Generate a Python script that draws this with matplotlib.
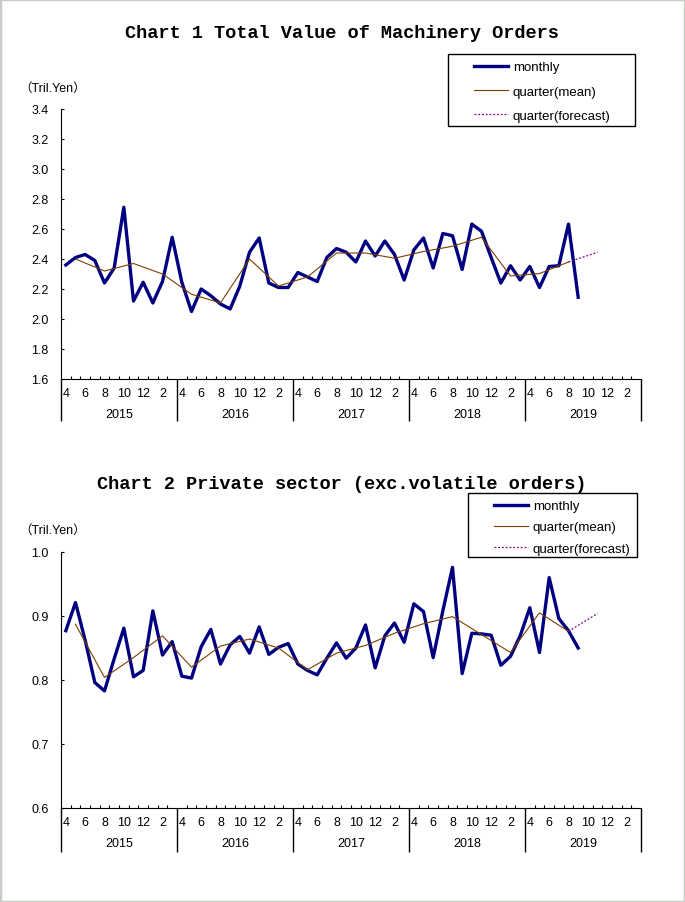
import numpy as np
import matplotlib.pyplot as plt
from matplotlib.patches import Rectangle

# fiscal years shown on the x axis (Apr - Mar)
years = ["2015", "2016", "2017", "2018", "2019"]
month_labels = ["4", "6", "8", "10", "12", "2"]

# Chart 1: total value of machinery orders, monthly Apr 2015 - Sep 2019
total_monthly = [2.36, 2.41, 2.43, 2.39, 2.24, 2.34, 2.745, 2.12, 2.245, 2.107, 2.25, 2.545,
                 2.245, 2.05, 2.20, 2.155, 2.10, 2.067, 2.22, 2.445, 2.54, 2.24, 2.21, 2.21,
                 2.31, 2.28, 2.25, 2.41, 2.47, 2.445, 2.38, 2.52, 2.42, 2.52, 2.43, 2.26,
                 2.46, 2.54, 2.34, 2.57, 2.555, 2.33, 2.633, 2.585, 2.41, 2.24, 2.355, 2.26,
                 2.35, 2.21, 2.35, 2.355, 2.633, 2.145]
total_quarter = [2.40, 2.32, 2.37, 2.30, 2.165, 2.107, 2.40, 2.22, 2.28, 2.44,
                 2.44, 2.405, 2.45, 2.485, 2.545, 2.287, 2.303, 2.38]
total_forecast = 2.445

# Chart 2: private sector excluding volatile orders
private_monthly = [0.877, 0.921, 0.862, 0.796, 0.783, 0.833, 0.881, 0.805, 0.815, 0.908, 0.839, 0.860,
                   0.806, 0.803, 0.852, 0.879, 0.825, 0.855, 0.868, 0.842, 0.883, 0.840, 0.851, 0.857,
                   0.825, 0.815, 0.808, 0.834, 0.858, 0.834, 0.850, 0.886, 0.819, 0.869, 0.889, 0.859,
                   0.919, 0.907, 0.835, 0.908, 0.976, 0.810, 0.873, 0.872, 0.870, 0.823, 0.837, 0.869,
                   0.913, 0.843, 0.960, 0.896, 0.877, 0.850]
private_quarter = [0.887, 0.804, 0.835, 0.869, 0.820, 0.853, 0.864, 0.850, 0.816, 0.842,
                   0.854, 0.873, 0.888, 0.899, 0.871, 0.843, 0.905, 0.876]
private_forecast = 0.904

NAVY = "#000080"
BROWN = "#7f3f00"
PURPLE = "#800080"

plt.rcParams["font.family"] = ["Liberation Sans", "Noto Sans CJK JP", "DejaVu Sans"]

W, H = 685, 903
fig = plt.figure(figsize=(W / 100, H / 100), dpi=100)


def fx(px):
    return px / W


def fy(py):
    return 1 - py / H


def draw_chart(top, bottom, title, title_y, monthly, quarter, forecast, yticks,
               unit_y, box, first_row, row_gap, divider_len):
    ax = fig.add_axes([fx(61), fy(bottom), fx(641) - fx(61), fy(top) - fy(bottom)])

    xm = np.arange(len(monthly)) + 0.5
    xq = np.arange(len(quarter)) * 3 + 1.5
    ax.plot(xm, monthly, color=NAVY, lw=2.4, label="monthly", zorder=3)
    ax.plot(xq, quarter, color=BROWN, lw=0.8, label="quarter(mean)", zorder=4)
    ax.plot([xq[-1], xq[-1] + 3], [quarter[-1], forecast], color=PURPLE, lw=0.9,
            ls=(0, (1.5, 1.5)), label="quarter(forecast)", zorder=4)

    ax.set_xlim(0, 60)
    ax.set_ylim(yticks[0], yticks[-1])
    ax.spines["top"].set_visible(False)
    ax.spines["right"].set_visible(False)

    ax.set_yticks(yticks)
    ax.set_yticklabels(["%.1f" % v for v in yticks])
    ax.tick_params(axis="y", direction="in", length=2.5, pad=9, labelsize=9)

    # year dividers below the axis and monthly ticks on it
    ax.set_xticks(np.arange(0, 61, 12))
    ax.set_xticklabels([])
    ax.set_xticks(np.arange(0, 61), minor=True)
    ax.tick_params(axis="x", which="major", direction="out", length=divider_len, width=1)
    ax.tick_params(axis="x", which="minor", direction="in", length=2.5, width=0.8)

    for i, yr in enumerate(years):
        for k, lab in enumerate(month_labels):
            ax.annotate(lab, xy=(i * 12 + k * 2 + 0.5, 0), xycoords=("data", "axes fraction"),
                        xytext=(0, -10), textcoords="offset points",
                        ha="center", va="center", fontsize=9)
        ax.annotate(yr, xy=(i * 12 + 6, 0), xycoords=("data", "axes fraction"),
                    xytext=(0, -25), textcoords="offset points",
                    ha="center", va="center", fontsize=9)

    fig.text(fx(342), fy(title_y), title, ha="center", va="center",
             family="Liberation Mono", weight="bold", fontsize=13.4)
    fig.text(fx(53), fy(unit_y), "（Tril.Yen）", ha="center", va="center", fontsize=9)

    # legend: frame drawn separately so the padding matches
    x0, y0, x1, y1 = box
    fig.add_artist(Rectangle((fx(x0), fy(y1)), fx(x1) - fx(x0), fy(y0) - fy(y1),
                             transform=fig.transFigure, fill=False, ec="black", lw=1))
    ax.legend(loc="upper left", bbox_to_anchor=(fx(x0 + 26), fy(first_row - 4)),
              bbox_transform=fig.transFigure, frameon=False, fontsize=9.5,
              borderpad=0, borderaxespad=0, handlelength=2.6, handletextpad=0.35,
              labelspacing=row_gap)
    return ax


draw_chart(110, 380, "Chart 1 Total Value of Machinery Orders", 33,
           total_monthly, total_quarter, total_forecast,
           np.round(np.arange(1.6, 3.41, 0.2), 1), 89,
           (448, 55, 635, 127), 66, 0.92, 30.2)

draw_chart(553, 809, "Chart 2 Private sector (exc.volatile orders)", 485,
           private_monthly, private_quarter, private_forecast,
           np.round(np.arange(0.6, 1.01, 0.1), 1), 531,
           (468, 494, 637, 558), 505, 0.68, 31.7)

# light frame round the picture
fig.add_artist(Rectangle((0, 0), 1, 1, transform=fig.transFigure, fill=False,
                         ec="#c5cdc5", lw=2.5))

fig.savefig("out.png", dpi=100)
